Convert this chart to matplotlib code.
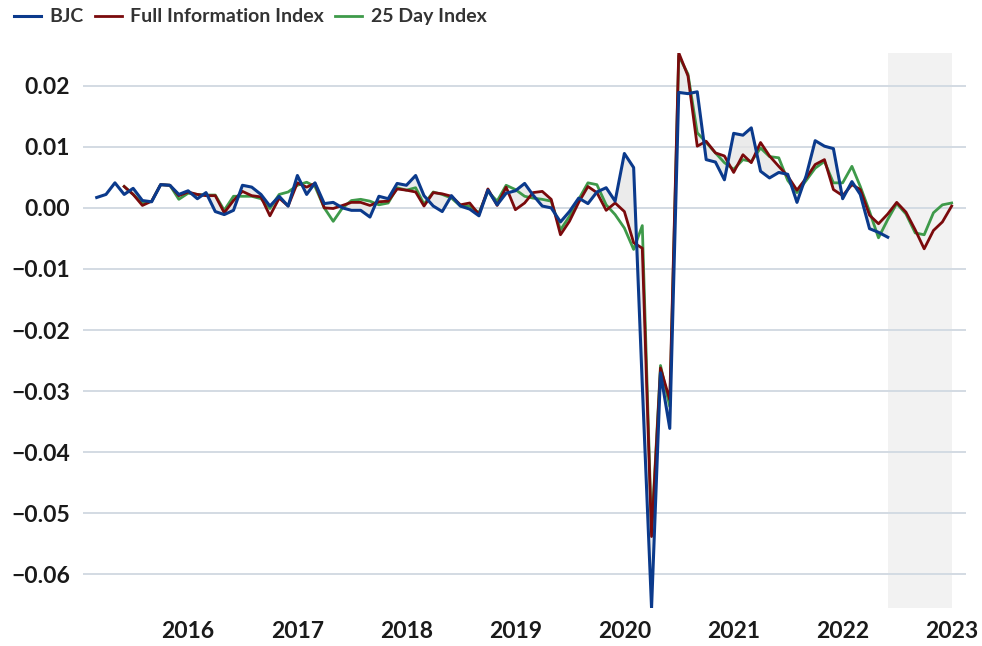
import matplotlib
matplotlib.use("Agg")
import matplotlib.pyplot as plt
import pandas as pd

plt.rcParams['font.family'] = ['Lato', 'DejaVu Sans']

# Monthly nowcast series
bjc_start = "2015-03-01"
bjc = [0.0017, 0.0022, 0.0041, 0.0022, 0.0032, 0.0012, 0.0010, 0.0038, 0.0037, 0.0022,
       0.0028, 0.0015, 0.0025, -0.0006, -0.0011, -0.0004, 0.0037, 0.0034, 0.0022, 0.0003,
       0.0019, 0.0003, 0.0053, 0.0022, 0.0041, 0.0007, 0.0009, 0.0000, -0.0004, -0.0004,
       -0.0015, 0.0019, 0.0015, 0.0040, 0.0037, 0.0053, 0.0020, 0.0003, -0.0006, 0.0020,
       0.0003, -0.0002, -0.0013, 0.0029, 0.0005, 0.0024, 0.0028, 0.0040, 0.0021, 0.0003,
       0.0000, -0.0023, -0.0006, 0.0016, 0.0007, 0.0026, 0.0033, 0.0011, 0.0089, 0.0066,
       -0.0290, -0.0655, -0.0270, -0.0361, 0.0189, 0.0187, 0.0190, 0.0079, 0.0075, 0.0046,
       0.0122, 0.0119, 0.0131, 0.0060, 0.0049, 0.0058, 0.0055, 0.0009, 0.0053, 0.0110,
       0.0101, 0.0097, 0.0015, 0.0043, 0.0022, -0.0034, -0.0040, -0.0048]

index_start = "2015-06-01"
full_info = [0.0035, 0.0022, 0.0004, 0.0011, 0.0038, 0.0037, 0.0020, 0.0026, 0.0022, 0.0020,
             0.0020, -0.0008, 0.0012, 0.0027, 0.0020, 0.0018, -0.0013, 0.0016, 0.0003, 0.0041,
             0.0034, 0.0040, 0.0000, -0.0001, 0.0004, 0.0009, 0.0009, 0.0004, 0.0010, 0.0011,
             0.0031, 0.0029, 0.0026, 0.0003, 0.0025, 0.0023, 0.0019, 0.0005, 0.0008, -0.0011,
             0.0031, 0.0004, 0.0034, -0.0003, 0.0008, 0.0025, 0.0027, 0.0014, -0.0044, -0.0022,
             0.0009, 0.0035, 0.0025, -0.0004, 0.0008, -0.0006, -0.0057, -0.0066, -0.0538, -0.0262,
             -0.0314, 0.0254, 0.0216, 0.0101, 0.0109, 0.0090, 0.0085, 0.0058, 0.0087, 0.0074,
             0.0107, 0.0085, 0.0068, 0.0052, 0.0029, 0.0049, 0.0071, 0.0079, 0.0030, 0.0020,
             0.0038, 0.0030, -0.0012, -0.0026, -0.0010, 0.0009, -0.0007, -0.0036, -0.0067, -0.0037,
             -0.0023, 0.0003]

day25 = [0.0035, 0.0022, 0.0008, 0.0011, 0.0038, 0.0037, 0.0014, 0.0024, 0.0022, 0.0021,
         0.0021, -0.0004, 0.0019, 0.0019, 0.0019, 0.0015, -0.0001, 0.0022, 0.0026, 0.0037,
         0.0042, 0.0035, 0.0000, -0.0022, 0.0000, 0.0012, 0.0014, 0.0011, 0.0005, 0.0008,
         0.0033, 0.0029, 0.0033, 0.0006, 0.0026, 0.0022, 0.0016, 0.0003, 0.0003, -0.0008,
         0.0027, 0.0011, 0.0037, 0.0030, 0.0019, 0.0016, 0.0014, 0.0011, -0.0036, -0.0014,
         0.0014, 0.0041, 0.0038, 0.0005, -0.0011, -0.0033, -0.0068, -0.0029, -0.0530, -0.0258,
         -0.0325, 0.0249, 0.0219, 0.0123, 0.0107, 0.0090, 0.0074, 0.0063, 0.0079, 0.0076,
         0.0098, 0.0084, 0.0082, 0.0045, 0.0025, 0.0045, 0.0065, 0.0076, 0.0041, 0.0041,
         0.0068, 0.0035, -0.0006, -0.0049, -0.0019, 0.0007, -0.0010, -0.0041, -0.0044, -0.0008,
         0.0005, 0.0008]

series_names = ["BJC", "Full Information Index", "25 Day Index"]
series_colors = ["#0b3a8c", "#7a0a0c", "#3e9a4a"]
shade_span = ("2022-06-01", "2023-01-01")
year_ticks = list(range(2016, 2024))
y_ticks = [-0.06, -0.05, -0.04, -0.03, -0.02, -0.01, 0.0, 0.01, 0.02]

bjc_dates = pd.date_range(bjc_start, periods=len(bjc), freq="MS")
idx_dates = pd.date_range(index_start, periods=len(full_info), freq="MS")

fig = plt.figure(figsize=(9.82, 6.46), dpi=100)
ax = fig.add_axes([0.0842, 0.0588, 0.8995, 0.8596])

# shaded forecast window
ax.axvspan(pd.Timestamp(shade_span[0]), pd.Timestamp(shade_span[1]),
           color="#f2f2f2", zorder=0, lw=0)

# grey band between BJC and the full information index
b = pd.Series(bjc, index=bjc_dates)
f = pd.Series(full_info, index=idx_dates)
common = b.index.intersection(f.index)
ax.fill_between(common, b[common].values, f[common].values,
                color="#e6e6e6", alpha=0.8, lw=0, zorder=1)

ax.plot(idx_dates, day25, color=series_colors[2], lw=2.0, zorder=3,
        label=series_names[2], solid_joinstyle="round")
ax.plot(idx_dates, full_info, color=series_colors[1], lw=2.0, zorder=4,
        label=series_names[1], solid_joinstyle="round")
ax.plot(bjc_dates, bjc, color=series_colors[0], lw=2.2, zorder=5,
        label=series_names[0], solid_joinstyle="round")

ax.set_ylim(min(bjc), max(full_info))
ax.set_xlim(pd.Timestamp("2015-01-13"), pd.Timestamp("2023-02-18"))

ax.set_yticks(y_ticks)
ax.yaxis.set_major_formatter(matplotlib.ticker.FuncFormatter(
    lambda v, p: f"{v:.2f}".replace("-", "\u2212") if abs(v) > 1e-9 else "0.00"))
ax.set_xticks([pd.Timestamp(f"{y}-01-01") for y in year_ticks])
ax.set_xticklabels([str(y) for y in year_ticks])

ax.grid(axis="y", color="#d3dbe3", lw=1.4, zorder=0.5)
ax.set_axisbelow(True)
for s in ax.spines.values():
    s.set_visible(False)
ax.tick_params(axis="both", length=0, labelsize=16.5, labelcolor="#1a1a1a")
ax.tick_params(axis="y", pad=9)
ax.tick_params(axis="x", pad=9)
for lab in ax.get_xticklabels() + ax.get_yticklabels():
    lab.set_fontweight("bold")

handles, labels = ax.get_legend_handles_labels()
order = [2, 1, 0]
leg = fig.legend([handles[i] for i in order], [labels[i] for i in order],
                 loc="upper left", bbox_to_anchor=(0.0, 1.008), ncol=3,
                 frameon=False, handlelength=1.4, handletextpad=0.45,
                 columnspacing=0.55, borderaxespad=0.3,
                 prop={"size": 14, "weight": "bold"})
for t in leg.get_texts():
    t.set_color("#333333")

fig.savefig("out.png", dpi=100)
